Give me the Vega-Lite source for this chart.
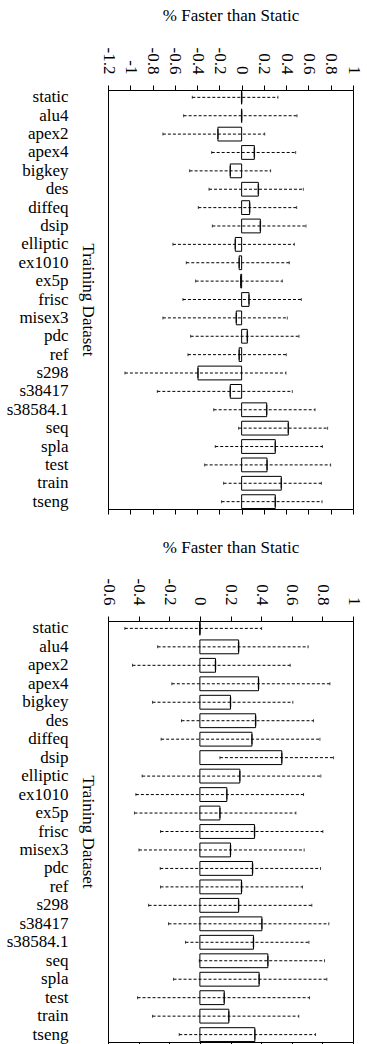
{
  "$schema": "https://vega.github.io/schema/vega-lite/v6.json",
  "padding": {"left": 5, "top": 6, "right": 5, "bottom": 0},
  "datasets": {
    "d1": [
      {"b": "static", "lo": -0.443, "hi": 0.326, "m": 0},
      {"b": "alu4", "lo": -0.521, "hi": 0.497, "m": 0},
      {"b": "apex2", "lo": -0.707, "hi": 0.207, "m": -0.213},
      {"b": "apex4", "lo": -0.269, "hi": 0.485, "m": 0.114},
      {"b": "bigkey", "lo": -0.467, "hi": 0.26, "m": -0.102},
      {"b": "des", "lo": -0.293, "hi": 0.554, "m": 0.15},
      {"b": "diffeq", "lo": -0.389, "hi": 0.494, "m": 0.072},
      {"b": "dsip", "lo": -0.263, "hi": 0.578, "m": 0.168},
      {"b": "elliptic", "lo": -0.617, "hi": 0.473, "m": -0.057},
      {"b": "ex1010", "lo": -0.497, "hi": 0.428, "m": -0.022},
      {"b": "ex5p", "lo": -0.413, "hi": 0.365, "m": -0.008},
      {"b": "frisc", "lo": -0.527, "hi": 0.536, "m": 0.066},
      {"b": "misex3", "lo": -0.707, "hi": 0.41, "m": -0.048},
      {"b": "pdc", "lo": -0.458, "hi": 0.515, "m": 0.051},
      {"b": "ref", "lo": -0.482, "hi": 0.401, "m": -0.022},
      {"b": "s298", "lo": -1.048, "hi": 0.398, "m": -0.392},
      {"b": "s38417", "lo": -0.757, "hi": 0.455, "m": -0.102},
      {"b": "s38584.1", "lo": -0.251, "hi": 0.659, "m": 0.225},
      {"b": "seq", "lo": -0.027, "hi": 0.772, "m": 0.419},
      {"b": "spla", "lo": -0.237, "hi": 0.725, "m": 0.302},
      {"b": "test", "lo": -0.332, "hi": 0.799, "m": 0.228},
      {"b": "train", "lo": -0.162, "hi": 0.716, "m": 0.356},
      {"b": "tseng", "lo": -0.18, "hi": 0.722, "m": 0.302}
    ],
    "d2": [
      {"b": "static", "lo": -0.49, "hi": 0.403, "m": 0},
      {"b": "alu4", "lo": -0.276, "hi": 0.707, "m": 0.253},
      {"b": "apex2", "lo": -0.44, "hi": 0.59, "m": 0.102},
      {"b": "apex4", "lo": -0.183, "hi": 0.849, "m": 0.383},
      {"b": "bigkey", "lo": -0.309, "hi": 0.607, "m": 0.2},
      {"b": "des", "lo": -0.12, "hi": 0.742, "m": 0.364},
      {"b": "diffeq", "lo": -0.253, "hi": 0.784, "m": 0.34},
      {"b": "dsip", "lo": 0.131, "hi": 0.873, "m": 0.535},
      {"b": "elliptic", "lo": -0.377, "hi": 0.79, "m": 0.261},
      {"b": "ex1010", "lo": -0.418, "hi": 0.677, "m": 0.176},
      {"b": "ex5p", "lo": -0.427, "hi": 0.627, "m": 0.131},
      {"b": "frisc", "lo": -0.257, "hi": 0.803, "m": 0.357},
      {"b": "misex3", "lo": -0.398, "hi": 0.681, "m": 0.2},
      {"b": "pdc", "lo": -0.259, "hi": 0.788, "m": 0.344},
      {"b": "ref", "lo": -0.257, "hi": 0.67, "m": 0.272},
      {"b": "s298", "lo": -0.335, "hi": 0.731, "m": 0.253},
      {"b": "s38417", "lo": -0.205, "hi": 0.842, "m": 0.405},
      {"b": "s38584.1", "lo": -0.094, "hi": 0.712, "m": 0.35},
      {"b": "seq", "lo": -0.004, "hi": 0.814, "m": 0.444},
      {"b": "spla", "lo": -0.172, "hi": 0.829, "m": 0.387},
      {"b": "test", "lo": -0.407, "hi": 0.716, "m": 0.159},
      {"b": "train", "lo": -0.309, "hi": 0.646, "m": 0.189},
      {"b": "tseng", "lo": -0.135, "hi": 0.755, "m": 0.359}
    ]
  },
  "spacing": 23,
  "vconcat": [
    {
      "width": 245,
      "height": 419,
      "data": {"name": "d1"},
      "resolve": {"axis": {"x": "independent"}},
      "encoding": {
        "y": {
          "field": "b", "type": "nominal", "sort": null,
          "scale": {"paddingInner": 0.25, "paddingOuter": 0.025},
          "axis": {"title": "Training Dataset", "ticks": false, "labelPadding": 40, "titleAngle": 90, "titleX": -20.5, "titleBaseline": "middle", "titleAlign": "center"}
        }
      },
      "layer": [
        {
          "mark": {"type": "rule", "strokeDash": [3, 2], "strokeWidth": 1, "color": "black"},
          "encoding": {
            "x": {"field": "lo", "type": "quantitative", "scale": {"domain": [-1.2, 1], "nice": false, "zero": false},
              "axis": {"orient": "top", "values": [-1.2, -1, -0.8, -0.6, -0.4, -0.2, 0, 0.2, 0.4, 0.6, 0.8, 1], "labelAngle": 90, "tickSize": 5, "labelPadding": 11, "title": "% Faster than Static", "titleY": -74.5, "titleBaseline": "middle", "labelExpr": "replace(format(datum.value, '~g'), '−', '-')"}},
            "x2": {"field": "hi"}
          }
        },
        {
          "mark": {"type": "bar", "fill": "white", "fillOpacity": 0, "stroke": "black", "strokeWidth": 1},
          "encoding": {
            "x": {"field": "m", "type": "quantitative",
              "axis": {"orient": "bottom", "values": [-1.2, -1, -0.8, -0.6, -0.4, -0.2, 0, 0.2, 0.4, 0.6, 0.8, 1], "labels": false, "tickSize": 5, "title": null}},
            "x2": {"datum": 0}
          }
        },
        {
          "mark": {"type": "tick", "color": "black", "size": 3, "thickness": 1},
          "encoding": {"x": {"field": "lo", "type": "quantitative", "axis": null}}
        },
        {
          "mark": {"type": "tick", "color": "black", "size": 3, "thickness": 1},
          "encoding": {"x": {"field": "hi", "type": "quantitative", "axis": null}}
        },
        {
          "mark": {"type": "tick", "color": "black", "size": 10, "thickness": 1.5},
          "encoding": {"x": {"field": "m", "type": "quantitative", "axis": null}}
        }
      ]
    },
    {
      "width": 245,
      "height": 421,
      "data": {"name": "d2"},
      "resolve": {"axis": {"x": "independent"}},
      "encoding": {
        "y": {
          "field": "b", "type": "nominal", "sort": null,
          "scale": {"paddingInner": 0.25, "paddingOuter": 0.025},
          "axis": {"title": "Training Dataset", "ticks": false, "labelPadding": 40, "titleAngle": 90, "titleX": -20.5, "titleBaseline": "middle", "titleAlign": "center"}
        }
      },
      "layer": [
        {
          "mark": {"type": "rule", "strokeDash": [3, 2], "strokeWidth": 1, "color": "black"},
          "encoding": {
            "x": {"field": "lo", "type": "quantitative", "scale": {"domain": [-0.6, 1], "nice": false, "zero": false},
              "axis": {"orient": "top", "values": [-0.6, -0.4, -0.2, 0, 0.2, 0.4, 0.6, 0.8, 1], "labelAngle": 90, "tickSize": 5, "labelPadding": 11, "title": "% Faster than Static", "titleY": -73.3, "titleBaseline": "middle", "labelExpr": "replace(format(datum.value, '~g'), '−', '-')"}},
            "x2": {"field": "hi"}
          }
        },
        {
          "mark": {"type": "bar", "fill": "white", "fillOpacity": 0, "stroke": "black", "strokeWidth": 1},
          "encoding": {
            "x": {"field": "m", "type": "quantitative",
              "axis": {"orient": "bottom", "values": [-0.6, -0.4, -0.2, 0, 0.2, 0.4, 0.6, 0.8, 1], "labels": false, "tickSize": 5, "title": null}},
            "x2": {"datum": 0}
          }
        },
        {
          "mark": {"type": "tick", "color": "black", "size": 3, "thickness": 1},
          "encoding": {"x": {"field": "lo", "type": "quantitative", "axis": null}}
        },
        {
          "mark": {"type": "tick", "color": "black", "size": 3, "thickness": 1},
          "encoding": {"x": {"field": "hi", "type": "quantitative", "axis": null}}
        },
        {
          "mark": {"type": "tick", "color": "black", "size": 10, "thickness": 1.5},
          "encoding": {"x": {"field": "m", "type": "quantitative", "axis": null}}
        }
      ]
    }
  ],
  "config": {
    "view": {"stroke": "black", "strokeWidth": 1},
    "axis": {
      "labelFont": "Liberation Serif", "titleFont": "Liberation Serif",
      "labelFontSize": 17, "titleFontSize": 17, "titleFontWeight": "normal",
      "labelColor": "black", "titleColor": "black",
      "domainColor": "black", "tickColor": "black", "grid": false
    }
  }
}
